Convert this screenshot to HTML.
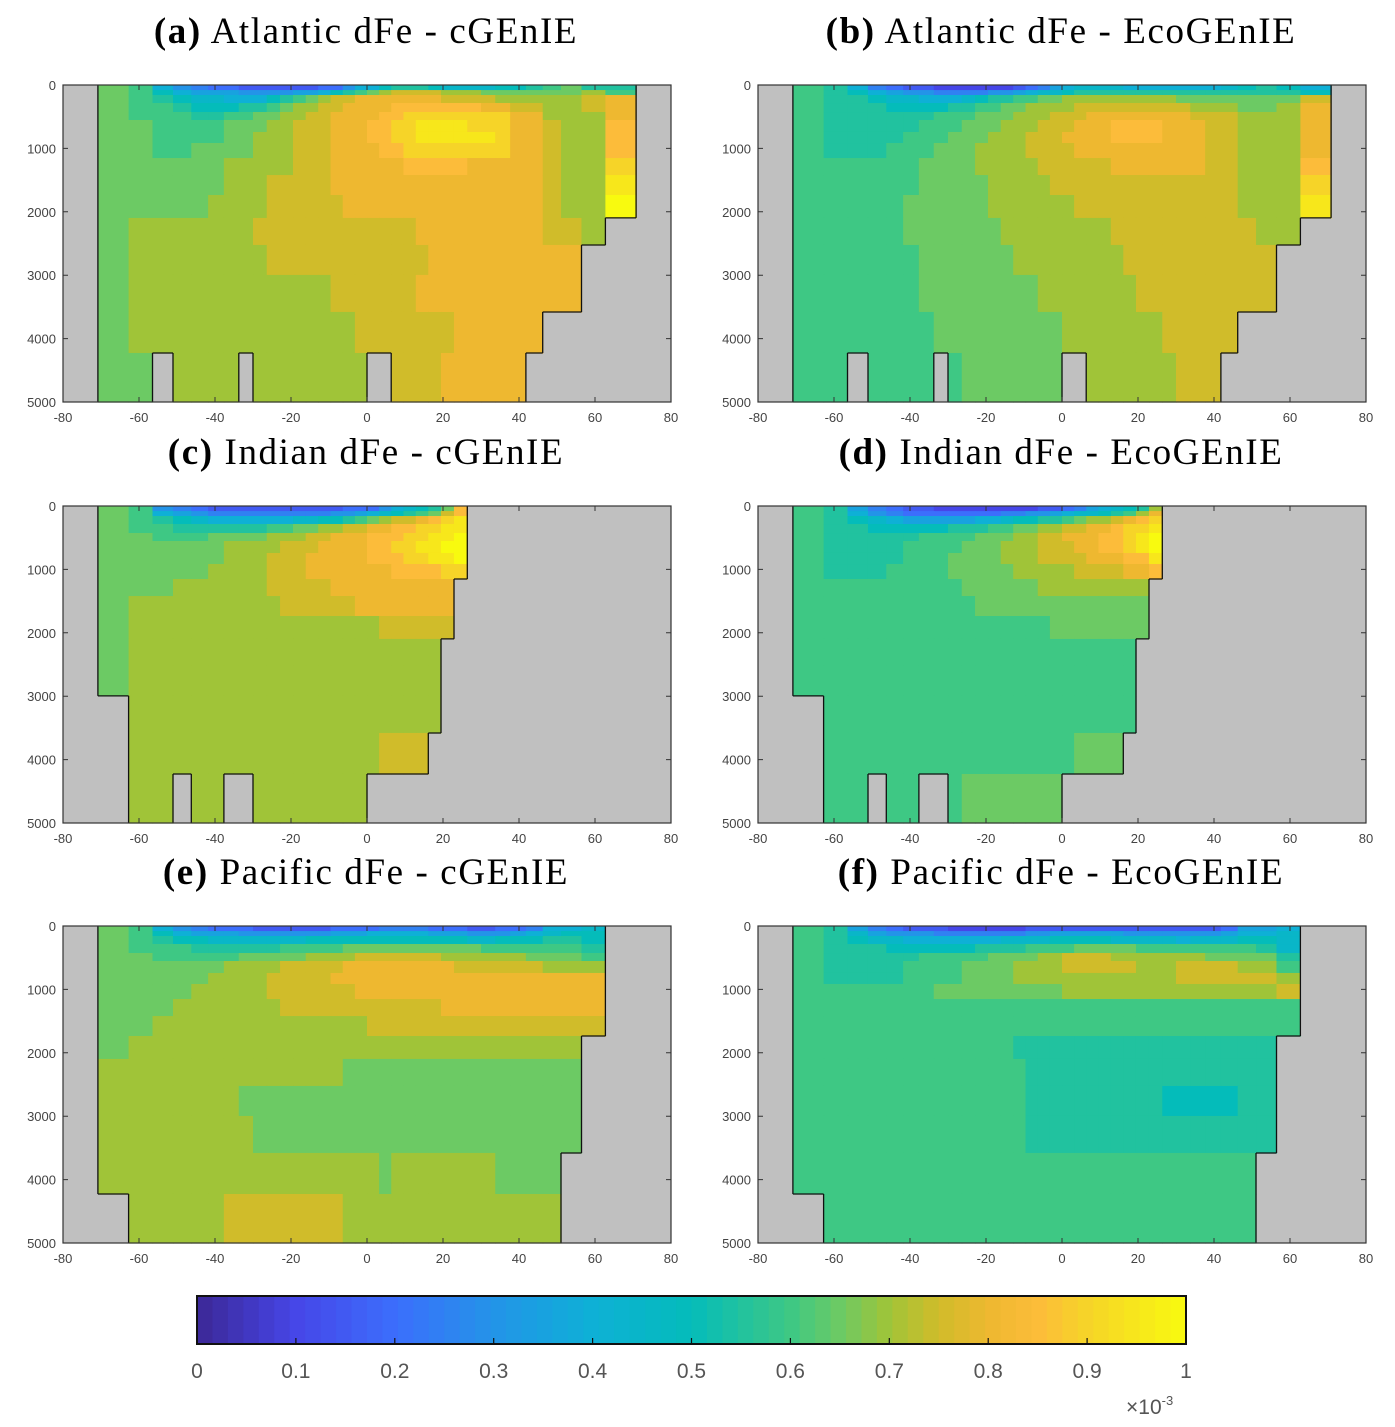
<!DOCTYPE html>
<html><head><meta charset="utf-8"><style>
html,body{margin:0;padding:0;background:#fff;}
svg{display:block;}
.tk{font-family:"Liberation Sans",sans-serif;font-size:13px;fill:#444;}
.ttl{font-family:"Liberation Serif",serif;font-size:37px;letter-spacing:1.6px;fill:#000;}
.cbl{font-family:"Liberation Sans",sans-serif;font-size:21px;fill:#555;}
</style></head><body>
<svg id="fig" width="1395" height="1427" viewBox="0 0 1395 1427" xmlns="http://www.w3.org/2000/svg"></svg>
<script>
// Encoding: char index in CODE * 0.05 (x10^-3); '.' = land. Each row: bins 1..34 (sin-lat grid), 16 depth levels.
const CODE = "0123456789ABCDEFGHIJK";
const depthEdges = [0,80,158,284,426,552,741,915,1152,1420,1735,2097,2523,2996,3580,4227,5000];
const xTicks = [-80,-60,-40,-20,0,20,40,60,80];
const yTicks = [0,1000,2000,3000,4000,5000];
const cbTicks = [0,0.1,0.2,0.3,0.4,0.5,0.6,0.7,0.8,0.9,1];
const titlesBold = ["(a)","(b)","(c)","(d)","(e)","(f)"];
const titlesText = ["Atlantic dFe - cGEnIE","Atlantic dFe - EcoGEnIE","Indian dFe - cGEnIE","Indian dFe - EcoGEnIE","Pacific dFe - cGEnIE","Pacific dFe - EcoGEnIE"];
const atlC = [
"DC86544333"+"33344688AB"+"BBA9999AAB"+"CDBB",
"DCA8777666"+"6778ABCDEF"+"FFFEEEDDDD"+"DDEC",
"DCBA99888A"+"BCDEFFGGGG"+"GGGFFFFEEE"+"EEFG",
"DCCBAAABBC"+"DEEFFGGGGH"+"HHHHHHGGFF"+"EEFG",
"DCCCBBCCDD"+"EEFFGGGGHH"+"IIIIIIIIGG"+"EEEG",
"DDCCCCDDDE"+"EFFFGGGHHI"+"IJJJJIIIGG"+"FEEH",
"DDCCCCDDEE"+"EFFFGGGHHI"+"IJJJJJJIGG"+"FEEH",
"DDCCDDDDEE"+"EFFFGGGGHH"+"IIIIIIIIGG"+"FEEH",
"DDDDDDEEEE"+"EFFFGGGGGG"+"HHHHHGGGGG"+"FEEI",
"DDDDDDEEEF"+"FFFFGGGGGG"+"GGGGGGGGGG"+"FEEJ",
"DDDDDEEEEF"+"FFFFFGGGGG"+"GGGGGGGGGG"+"FEEK",
"DEEEEEEEFF"+"FFFFFFFFFF"+"FGGGGGGGGG"+"FFE.",
"DEEEEEEEEF"+"FFFFFFFFFF"+"FFGGGGGGGG"+"GG..",
"DEEEEEEEEE"+"EEEEFFFFFF"+"FGGGGGGGGG"+"GG..",
"DEEEEEEEEE"+"EEEEEEFFFF"+"FFFFGGGGGG"+"....",
"DD.EEEE.EE"+"EEEEEEE..F"+"FFFGGGGGG."+"...."];
const atlE = [
"CB85433222"+"2223457899"+"9988888889"+"ABA8",
"CBA8766555"+"5667899ABB"+"BBBBBBBBBB"+"BBBA",
"CBBA998889"+"ABBCCDDEEE"+"EEEEEEDDDD"+"DDDF",
"CBBBAAAABB"+"CCDDEEEEFF"+"FFFFFFFEEE"+"DDEG",
"CBBBBBBCCC"+"DDDEEEFFFG"+"GGGGGGGFFF"+"EEEG",
"CBBBBBCCCD"+"DDEEEFFFGG"+"GHHHHGGGFF"+"EEEG",
"CBBBBCCCDD"+"DEEEFFFGGG"+"GHHHHGGGFF"+"EEEG",
"CBBBCCCDDD"+"EEEEFFFFGG"+"GGGGGGGGFF"+"EEEG",
"CCCCCCDDDD"+"EEEEEFFFFF"+"FGGGGGGGFF"+"EEEH",
"CCCCCCDDDD"+"DEEEEEFFFF"+"FFFFFFFFFF"+"EEEI",
"CCCCCDDDDD"+"DEEEEEEEFF"+"FFFFFFFFFF"+"EEEJ",
"CCCCCDDDDD"+"DDEEEEEEEE"+"EFFFFFFFFF"+"FEE.",
"CCCCCCDDDD"+"DDDEEEEEEE"+"EEFFFFFFFF"+"FF..",
"CCCCCCDDDD"+"DDDDDEEEEE"+"EEEFFFFFFF"+"FF..",
"CCCCCCCDDD"+"DDDDDDDEEE"+"EEEEEFFFFF"+"....",
"CC.CCCC.CD"+"DDDDDDD..E"+"EEEEEEFFF."+"...."];
const indC = [
"DC65433333"+"3333344468"+"9ABDH....."+"....",
"DC87655555"+"555566789A"+"BCDFH....."+"....",
"DCBA988888"+"899AABCDEF"+"FGHIJ....."+"....",
"DCCBBBBBBC"+"CDDEEFFGGH"+"HIIJJ....."+"....",
"DDCCCDDDDE"+"EEFFGGGHHH"+"IIJJK....."+"....",
"DDDDDDEEEE"+"FFFGGGGHHI"+"IJJKK....."+"....",
"DDDDDDEEEF"+"FFGGGGGHHH"+"IIJJK....."+"....",
"DDDDDEEEEF"+"FFGGGGGGGH"+"HHHII....."+"....",
"DDDEEEEEEF"+"FFFFGGGGGG"+"GGGG......"+"....",
"DEEEEEEEEE"+"FFFFFFGGGG"+"GGGG......"+"....",
"DEEEEEEEEE"+"EEEEEEEEFF"+"FFFF......"+"....",
"DEEEEEEEEE"+"EEEEEEEEEE"+"EEE......."+"....",
"DEEEEEEEEE"+"EEEEEEEEEE"+"EEE......."+"....",
".EEEEEEEEE"+"EEEEEEEEEE"+"EEE......."+"....",
".EEEEEEEEE"+"EEEEEEEEFF"+"FF........"+"....",
".EE.EE..EE"+"EEEEEEE..."+".........."+"...."];
const indE = [
"CB75433222"+"2222233457"+"89ABE....."+"....",
"CB86544444"+"4455667899"+"ABCEG....."+"....",
"CBA9877777"+"889AABBCDE"+"EFGHI....."+"....",
"CBBAAAAABB"+"BCCDDEEFFG"+"GHIIJ....."+"....",
"CBBBBBCCCC"+"DDDEEFFGGG"+"HHIJK....."+"....",
"CBBBBCCCCD"+"DDEEEFFFGG"+"HHIJK....."+"....",
"CBBBBCCCDD"+"DDEEEFFFFG"+"GGHHJ....."+"....",
"CBBBCCCCDD"+"DDDEEEEEFF"+"FFGGH....."+"....",
"CCCCCCCCCD"+"DDDDDEEEEE"+"EEEE......"+"....",
"CCCCCCCCCC"+"DDDDDDDDDD"+"DDDD......"+"....",
"CCCCCCCCCC"+"CCCCCCDDDD"+"DDDD......"+"....",
"CCCCCCCCCC"+"CCCCCCCCCC"+"CCC......."+"....",
"CCCCCCCCCC"+"CCCCCCCCCC"+"CCC......."+"....",
".CCCCCCCCC"+"CCCCCCCCCC"+"CCC......."+"....",
".CCCCCCCCC"+"CCCCCCCCDD"+"DD........"+"....",
".CC.CC..CD"+"DDDDDDD..."+".........."+"...."];
const pacC = [
"DC86544433"+"3333444455"+"5544433445"+"889.",
"DCA8777666"+"6666777888"+"8877766678"+"9AA.",
"DCBAA99999"+"99AAAAAAAA"+"AAAAA99AAA"+"BBA.",
"DCCCBBBBBB"+"CCCCCDDDDD"+"DDDDDDCCCC"+"CCB.",
"DDCCCCCDDD"+"DDEEEEFFFF"+"FFFEEEEEED"+"DDC.",
"DDDDDDEEEE"+"FFFFFGGGGG"+"GGGGFFFFFF"+"EEE.",
"DDDDDEEEEF"+"FFFFGGGGGG"+"GGGGGGGGGG"+"GGG.",
"DDDDEEEEEF"+"FFFFFFGGGG"+"GGGGGGGGGG"+"GGG.",
"DDDEEEEEEE"+"FFFFFFFFFF"+"FFFGGGGGGG"+"GGG.",
"DDEEEEEEEE"+"EEEEEEEFFF"+"FFFFFFFFFF"+"FFF.",
"DEEEEEEEEE"+"EEEEEEEEEE"+"EEEEEEEEEE"+"EE..",
"EEEEEEEEEE"+"EEEEEDDDDD"+"DDDDDDDDDD"+"DD..",
"EEEEEEEDDD"+"DDDDDDDDDD"+"DDDDDDDDDD"+"DD..",
"EEEEEEEEDD"+"DDDDDDDDDD"+"DDDDDDDDDD"+"DD..",
"EEEEEEEEEE"+"EEEEEEEEDE"+"EEEEEEEDDD"+"D...",
".EEEEEFFFF"+"FFFFFEEEEE"+"EEEEEEEEEE"+"E..."];
const pacE = [
"CB75433322"+"2222333333"+"3333333334"+"778.",
"CB97666555"+"5555667777"+"7766666667"+"889.",
"CBA9988888"+"889999AAAA"+"A999998999"+"AA9.",
"CBBBAAAAAA"+"BBBBCCCCDD"+"DDDCCCCCCC"+"CB9.",
"CBBBBBCCCC"+"CDDDDEEFFF"+"FEEEEEEEDD"+"DDB.",
"CBBBBCCCCD"+"DDDEEEEFFF"+"FFFEEEFFFF"+"EEC.",
"CBBBBCCCCD"+"DDDEEEEEEE"+"EEEEEEFFFF"+"FFE.",
"CCCCCCCDDD"+"DDDDDDDEEE"+"EEEEEEEEEE"+"EEF.",
"CCCCCCCCCC"+"CCCCCCCCCC"+"CCCCCCCCCC"+"CCC.",
"CCCCCCCCCC"+"CCCCCCCCCC"+"CCCCCCCCCC"+"CCC.",
"CCCCCCCCCC"+"CCCBBBBBBB"+"BBBBBBBBBB"+"BB..",
"CCCCCCCCCC"+"CCCCBBBBBB"+"BBBBBBBBBB"+"BB..",
"CCCCCCCCCC"+"CCCCBBBBBB"+"BBBBBAAAAA"+"BB..",
"CCCCCCCCCC"+"CCCCBBBBBB"+"BBBBBBBBBB"+"BB..",
"CCCCCCCCCC"+"CCCCCCCCCC"+"CCCCCCCCCC"+"C...",
".CCCCCCCCC"+"CCCCCCCCCC"+"CCCCCCCCCC"+"C..."];
const panelData = [atlC, atlE, indC, indE, pacC, pacE];

const NS="http://www.w3.org/2000/svg";
const svg=document.getElementById('fig');
function mk(tag,attrs,parent){const e=document.createElementNS(NS,tag);for(const k in attrs)e.setAttribute(k,attrs[k]);(parent||svg).appendChild(e);return e;}
const stops=[[0,[60,40,150]],[0.1,[70,70,232]],[0.2,[60,110,252]],[0.3,[35,148,232]],[0.4,[14,176,214]],[0.5,[4,188,186]],[0.6,[62,200,132]],[0.65,[108,202,100]],[0.7,[160,196,56]],[0.75,[208,188,42]],[0.8,[238,184,48]],[0.85,[252,188,58]],[0.9,[246,212,40]],[1,[248,250,15]]];
function cmap(v){v=Math.max(0,Math.min(1,v));for(let i=1;i<stops.length;i++){if(v<=stops[i][0]){const a=stops[i-1],b=stops[i],t=(v-a[0])/(b[0]-a[0]);return 'rgb('+a[1].map((c,j)=>Math.round(c+(b[1][j]-c)*t)).join(',')+')';}}return 'rgb(248,250,15)';}
const latEdge=k=>Math.asin(-1+k/18)*180/Math.PI;
const PW=608, PH=317;
const px=[63,758], py=[85,506,926];
for(let p=0;p<6;p++){
  const x0=px[p%2], y0=py[Math.floor(p/2)];
  const xs=lat=>x0+(lat+80)/160*PW;
  const ys=d=>y0+d/5000*PH;
  const g=mk('g',{});
  
  
  const bg=mk('rect',{x:x0,y:y0,width:PW,height:PH,fill:'#c0c0c0'},g);
  
  
  const rows=panelData[p].map(s=>'.'+s+'.');
  const oc=(l,i)=>l>=0&&l<16&&i>=0&&i<36&&rows[l][i]!=='.';
  for(let l=0;l<16;l++)for(let i=0;i<36;i++){
    const ch=rows[l][i]; if(ch==='.')continue;
    const v=CODE.indexOf(ch)*0.05;
    const xa=Math.max(xs(latEdge(i)),x0),xb=Math.min(xs(latEdge(i+1)),x0+PW);
    const r=mk('rect',{x:xa.toFixed(2),y:ys(depthEdges[l]).toFixed(2),width:(xb-xa+0.6).toFixed(2),height:(ys(depthEdges[l+1])-ys(depthEdges[l])+0.6).toFixed(2),fill:cmap(v)},g);
    
    
  }
  let d='';
  for(let l=0;l<16;l++)for(let i=0;i<36;i++){
    if(!oc(l,i))continue;
    const xa=xs(latEdge(i)),xb=xs(latEdge(i+1)),ya=ys(depthEdges[l]),yb=ys(depthEdges[l+1]);
    if(!oc(l,i-1))d+=`M${xa.toFixed(1)} ${ya.toFixed(1)}V${yb.toFixed(1)}`;
    if(!oc(l,i+1))d+=`M${xb.toFixed(1)} ${ya.toFixed(1)}V${yb.toFixed(1)}`;
    if(l>0&&!oc(l-1,i))d+=`M${xa.toFixed(1)} ${ya.toFixed(1)}H${xb.toFixed(1)}`;
    if(l<15&&!oc(l+1,i))d+=`M${xa.toFixed(1)} ${yb.toFixed(1)}H${xb.toFixed(1)}`;
  }
  const cl=mk('path',{d:d,stroke:'#111',fill:'none','stroke-width':1.3},g);
  
  
  const fr=mk('rect',{x:x0,y:y0,width:PW,height:PH,fill:'none',stroke:'#333','stroke-width':1.2},g);
  
  
  xTicks.forEach(t=>{
    const x=xs(t);
    mk('path',{d:`M${x} ${y0}v5M${x} ${y0+PH}v-5`,stroke:'#333','stroke-width':1},g);
    const tx=mk('text',{x:x,y:y0+PH+20,'text-anchor':'middle',class:'tk'},g);
    tx.textContent=t;
    
    
  });
  yTicks.forEach(t=>{
    const y=ys(t);
    mk('path',{d:`M${x0} ${y}h5M${x0+PW} ${y}h-5`,stroke:'#333','stroke-width':1},g);
    const tx=mk('text',{x:x0-7,y:y+5,'text-anchor':'end',class:'tk'},g);
    tx.textContent=t;
    
    
  });
  const tt=mk('text',{x:x0+PW/2-1,y:y0-42,'text-anchor':'middle',class:'ttl'},g);
  
  
  const tb=mk('tspan',{'font-weight':'bold'},tt); tb.textContent=titlesBold[p];
  const tn=mk('tspan',{},tt); tn.textContent=' '+titlesText[p];
}
const cbX0=197,cbX1=1186,cbY=1296,cbH=48;
const cb=mk('g',{});


const N=64;
for(let k=0;k<N;k++){
  const r=mk('rect',{x:(cbX0+(cbX1-cbX0)*k/N).toFixed(2),y:cbY,width:((cbX1-cbX0)/N+0.6).toFixed(2),height:cbH,fill:cmap((k+0.5)/N)},cb);
  
  
}
mk('rect',{x:cbX0,y:cbY,width:cbX1-cbX0,height:cbH,fill:'none',stroke:'#111','stroke-width':2},cb);
cbTicks.forEach(t=>{
  const x=cbX0+(cbX1-cbX0)*t;
  mk('path',{d:`M${x} ${cbY+cbH}v-6`,stroke:'#111','stroke-width':1.2},cb);
  const tx=mk('text',{x:x,y:1378,'text-anchor':'middle',class:'cbl'},cb);
  tx.textContent=String(t);
  
  
});
const ex=mk('text',{x:1126,y:1414,class:'cbl','font-size':'19'},cb);


const e1=mk('tspan',{},ex); e1.textContent='×10';
const e2=mk('tspan',{dy:'-9','font-size':'13'},ex); e2.textContent='-3';
</script>
</body></html>
